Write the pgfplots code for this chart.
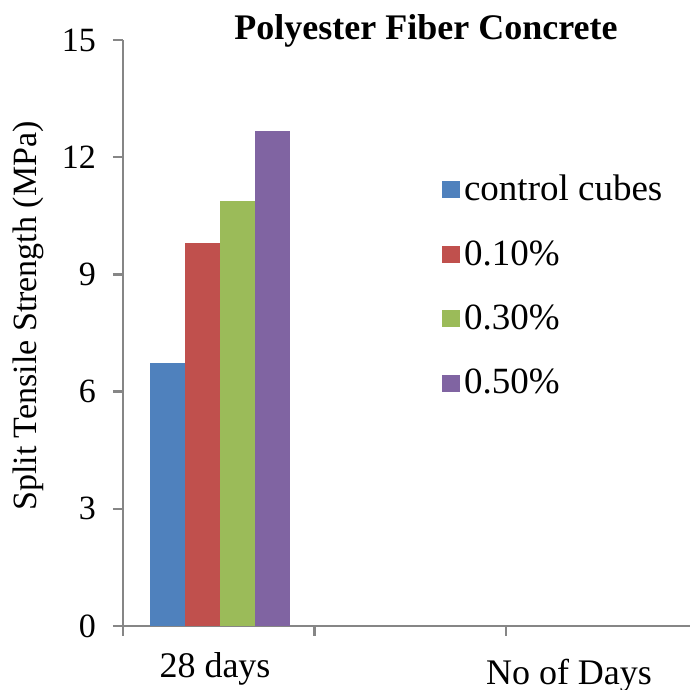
\documentclass[border=0pt]{standalone}
\usepackage{pgfplots}
\pgfplotsset{compat=1.18}
\usepackage{fontspec}
\setmainfont{Liberation Serif}
\definecolor{cblue}{HTML}{4F81BD}
\definecolor{cred}{HTML}{C0504D}
\definecolor{cgreen}{HTML}{9BBB59}
\definecolor{cpurple}{HTML}{8064A2}
\definecolor{axgray}{HTML}{868686}
\begin{document}
\begin{tikzpicture}
\path[use as bounding box] (0,0) rectangle (345.5pt,345pt);
\begin{axis}[
  at={(61.5pt,32pt)}, anchor=south west,
  scale only axis, width=283.5pt, height=293pt,
  xmin=0, xmax=2.961, ymin=0, ymax=15,
  axis x line=bottom, axis y line=left,
  axis line style={-, draw=axgray, line width=1.2pt},
  tick style={draw=axgray, line width=1.2pt},
  tick align=outside, major tick length=5pt,
  xtick={0,1,2}, xticklabels={},
  ytick={0,3,6,9,12,15},
  /pgf/number format/assume math mode=true,
  yticklabel style={font=\fontsize{17}{19}\selectfont, anchor=east, xshift=-5pt},
  ybar, bar width=0.1828, bar shift=0pt,
  legend style={draw=none, fill=none, at={(0.562,0.777)}, anchor=north west,
    font=\fontsize{18.5}{21}\selectfont, row sep=14.4pt, inner sep=0pt,
    /tikz/every even column/.append style={column sep=4.5pt}},
  legend cell align=left,
  legend image code/.code={\fill[#1] (0pt,-4.25pt) rectangle (9pt,4.25pt);},
]
\addplot[fill=cblue, draw=none] coordinates {(0.232,6.72)};
\addlegendentry{control cubes}
\addplot[fill=cred, draw=none] coordinates {(0.415,9.81)};
\addlegendentry{0.10\%}
\addplot[fill=cgreen, draw=none] coordinates {(0.598,10.89)};
\addlegendentry{0.30\%}
\addplot[fill=cpurple, draw=none] coordinates {(0.781,12.68)};
\addlegendentry{0.50\%}
\end{axis}
\node[anchor=base, font=\fontsize{18}{21}\selectfont\bfseries] at (213pt,325pt) {Polyester Fiber Concrete};
\node[rotate=90, anchor=base, font=\fontsize{17}{20}\selectfont] at (18pt,187pt) {Split Tensile Strength (MPa)};
\node[anchor=base, font=\fontsize{18}{21}\selectfont] at (107.5pt,6pt) {28 days};
\node[anchor=base, font=\fontsize{18}{21}\selectfont] at (284.5pt,2.5pt) {No of Days};
\end{tikzpicture}
\end{document}
